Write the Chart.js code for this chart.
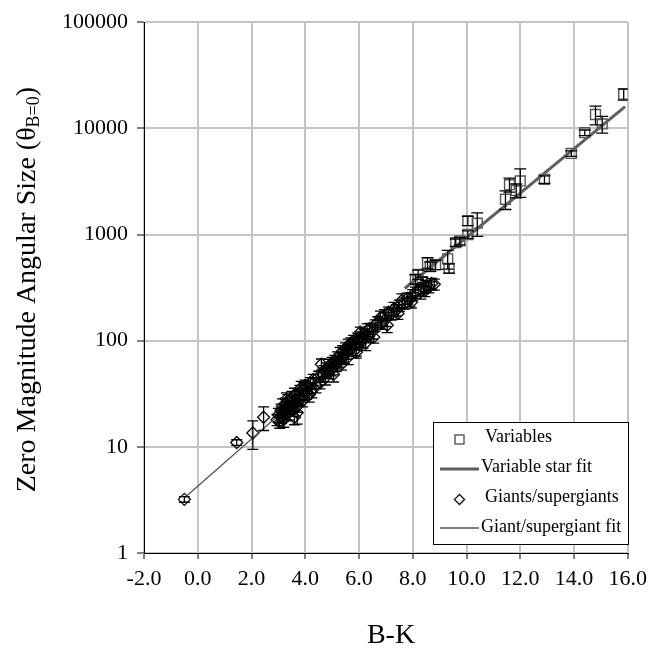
<!DOCTYPE html>
<html>
<head>
<meta charset="utf-8">
<script src="https://cdn.jsdelivr.net/npm/chart.js@4.4.0/dist/chart.umd.min.js"></script>
<style>
  body { margin: 0; background: #fff; }
  #wrap { width: 654px; height: 651px; }
</style>
</head>
<body>
<div id="wrap"><canvas id="chart" width="654" height="651"></canvas></div>
<script>
// Giants / supergiants: B-K colour, zero magnitude angular size, fractional error
const giantX = [-0.5, 1.45, 2.05, 2.45, 2.95, 3.0, 3.05, 3.1, 3.1, 3.15, 3.2, 3.2, 3.25, 3.3, 3.3, 3.35, 3.4, 3.4, 3.45, 3.5,
  3.5, 3.55, 3.6, 3.6, 3.65, 3.7, 3.7, 3.75, 3.8, 3.8, 3.85, 3.9, 3.95, 4.0, 4.05, 4.1, 4.15, 4.2, 4.3, 4.4,
  4.5, 4.6, 4.65, 4.7, 4.75, 4.8, 4.85, 4.9, 4.95, 5.0, 5.05, 5.1, 5.15, 5.2, 5.25, 5.3, 5.35, 5.4, 5.45, 5.5,
  5.55, 5.6, 5.65, 5.7, 5.75, 5.8, 5.85, 5.9, 5.95, 6.0, 6.05, 6.1, 6.15, 6.2, 6.3, 6.35, 6.4, 6.5, 6.6, 6.7,
  6.8, 6.85, 6.95, 7.0, 7.1, 7.2, 7.3, 7.4, 7.5, 7.6, 7.7, 7.8, 7.9, 8.0, 8.1, 8.2, 8.3, 8.4, 8.5, 8.6, 8.7, 8.8,
  3.3, 3.6, 3.9, 4.25, 4.55, 5.05, 5.35, 5.6, 5.9, 6.25, 6.55, 7.05, 7.45, 7.95, 8.45];
const giantY = [3.2, 11, 13.5, 19, 18, 20, 17, 22, 19, 24, 21, 18, 25, 22, 20, 27, 24, 21, 23, 26,
  29, 22, 25, 31, 27, 24, 21, 30, 33, 28, 36, 31, 35, 38, 33, 36, 31, 40, 43, 38,
  46, 60, 48, 52, 45, 55, 50, 58, 53, 62, 56, 65, 60, 70, 64, 75, 68, 80, 72, 85,
  76, 90, 82, 95, 86, 100, 92, 84, 105, 96, 120, 108, 100, 115, 125, 110, 130, 122, 140, 150,
  165, 145, 175, 160, 185, 178, 200, 195, 215, 240, 225, 250, 245, 270, 285, 300, 290, 315, 330, 320, 345, 340,
  28, 19, 27, 34, 40, 48, 60, 70, 78, 95, 108, 140, 180, 230, 295];
const giantErr = [0.06, 0.06, 0.3, 0.25, 0.12, 0.15, 0.12, 0.15, 0.12, 0.18, 0.12, 0.15, 0.15, 0.12, 0.12, 0.15, 0.12, 0.15, 0.12, 0.15,
  0.15, 0.12, 0.15, 0.15, 0.12, 0.12, 0.22, 0.15, 0.15, 0.12, 0.15, 0.12, 0.15, 0.12, 0.15, 0.12, 0.15, 0.12, 0.12, 0.15,
  0.12, 0.12, 0.15, 0.12, 0.15, 0.12, 0.12, 0.15, 0.12, 0.12, 0.15, 0.12, 0.15, 0.12, 0.12, 0.15, 0.12, 0.12, 0.15, 0.12,
  0.12, 0.15, 0.12, 0.12, 0.15, 0.12, 0.12, 0.15, 0.12, 0.15, 0.12, 0.12, 0.15, 0.12, 0.15, 0.12, 0.12, 0.15, 0.12, 0.12,
  0.15, 0.12, 0.12, 0.15, 0.12, 0.12, 0.15, 0.12, 0.12, 0.15, 0.12, 0.12, 0.15, 0.12, 0.12, 0.12, 0.15, 0.12, 0.12, 0.12, 0.12, 0.12,
  0.15, 0.15, 0.12, 0.15, 0.12, 0.15, 0.12, 0.15, 0.12, 0.15, 0.12, 0.15, 0.12, 0.12, 0.12];

// Variables
const varX = [8.1, 8.2, 8.35, 8.55, 8.65, 8.85, 9.3, 9.35, 9.6, 9.75, 10.05, 10.05, 10.4, 11.45, 11.6, 11.85, 12.0, 12.9, 13.9, 14.4, 14.8, 15.05, 15.85];
const varY = [380, 420, 360, 540, 500, 520, 590, 480, 840, 870, 1000, 1350, 1280, 2150, 2950, 2600, 3200, 3300, 5800, 9100, 13500, 11000, 21000];
const varErr = [0.1, 0.1, 0.1, 0.12, 0.1, 0.1, 0.2, 0.1, 0.08, 0.08, 0.08, 0.1, 0.25, 0.2, 0.15, 0.15, 0.3, 0.08, 0.06, 0.06, 0.2, 0.18, 0.12];

// fits (end points)
const varFitX = [7.7, 15.9];
const varFitY = [310, 16000];
const giantFitX = [-0.5, 8.8];
const giantFitY = [3.3, 385];

const xTicks = [-2, 0, 2, 4, 6, 8, 10, 12, 14, 16];
const yTicks = [1, 10, 100, 1000, 10000, 100000];

const pts = (xs, ys) => xs.map((x, i) => ({ x: x, y: ys[i] }));
const serif = "'Liberation Serif', 'DejaVu Serif', serif";
Chart.defaults.font.family = serif;
Chart.defaults.color = '#000';

// vertical error bars drawn through the scales
const errorBars = {
  id: 'errorBars',
  afterDatasetsDraw(chart) {
    const { ctx, scales: { x, y }, chartArea } = chart;
    ctx.save();
    ctx.beginPath();
    ctx.rect(chartArea.left, chartArea.top, chartArea.width, chartArea.height);
    ctx.clip();
    ctx.strokeStyle = '#000';
    ctx.lineWidth = 1.3;
    chart.data.datasets.forEach(ds => {
      if (!ds.errors) return;
      ds.data.forEach((p, i) => {
        const e = ds.errors[i];
        const px = x.getPixelForValue(p.x);
        const lo = y.getPixelForValue(p.y * (1 - e));
        const hi = y.getPixelForValue(p.y * (1 + e));
        const cap = ds.capHalf;
        ctx.beginPath();
        ctx.moveTo(px, lo); ctx.lineTo(px, hi);
        ctx.moveTo(px - cap, lo); ctx.lineTo(px + cap, lo);
        ctx.moveTo(px - cap, hi); ctx.lineTo(px + cap, hi);
        ctx.stroke();
      });
    });
    ctx.restore();
  }
};

// axis titles (y title has a subscript) and the boxed legend
const decorations = {
  id: 'decorations',
  afterDraw(chart) {
    const { ctx, chartArea } = chart;
    ctx.save();
    ctx.fillStyle = '#000';

    // x title
    ctx.font = '28px ' + serif;
    ctx.textAlign = 'center';
    ctx.textBaseline = 'middle';
    ctx.fillText('B-K', 391, 636);

    // y title
    ctx.save();
    ctx.translate(28, (chartArea.top + chartArea.bottom) / 2 + 2);
    ctx.rotate(-Math.PI / 2);
    ctx.textAlign = 'left';
    ctx.textBaseline = 'middle';
    const main = 'Zero Magnitude Angular Size (\u03B8';
    ctx.font = '28px ' + serif;
    const w1 = ctx.measureText(main).width;
    const w3 = ctx.measureText(')').width;
    ctx.font = '18px ' + serif;
    const w2 = ctx.measureText('B=0').width;
    let sx = -(w1 + w2 + w3) / 2;
    ctx.font = '28px ' + serif;
    ctx.fillText(main, sx, 0);
    ctx.font = '18px ' + serif;
    ctx.fillText('B=0', sx + w1, 6);
    ctx.font = '28px ' + serif;
    ctx.fillText(')', sx + w1 + w2, 0);
    ctx.restore();

    // legend
    const bx = 433.5, by = 422.5, bw = 195, bh = 122;
    ctx.fillStyle = '#fff';
    ctx.fillRect(bx, by, bw, bh);
    ctx.strokeStyle = '#000';
    ctx.lineWidth = 1;
    ctx.strokeRect(bx, by, bw, bh);
    const ds = chart.data.datasets;
    const rows = [437, 467, 497, 527];
    ctx.font = '18px ' + serif;
    ctx.textAlign = 'left';
    ctx.textBaseline = 'middle';
    ctx.fillStyle = '#000';
    // Variables
    ctx.strokeStyle = ds[2].borderColor;
    ctx.lineWidth = 1.4;
    ctx.strokeRect(455, rows[0] - 2, 9, 9);
    ctx.fillText(ds[2].label, 485, rows[0]);
    // Variable star fit
    ctx.strokeStyle = ds[0].borderColor;
    ctx.lineWidth = ds[0].borderWidth;
    ctx.beginPath(); ctx.moveTo(440, rows[1] + 2); ctx.lineTo(479, rows[1] + 2); ctx.stroke();
    ctx.fillText(ds[0].label, 481, rows[1]);
    // Giants/supergiants
    ctx.strokeStyle = ds[3].borderColor;
    ctx.lineWidth = 1.4;
    ctx.beginPath();
    ctx.moveTo(459.5, rows[2] - 2.5); ctx.lineTo(464.5, rows[2] + 2.5);
    ctx.lineTo(459.5, rows[2] + 7.5); ctx.lineTo(454.5, rows[2] + 2.5); ctx.closePath();
    ctx.stroke();
    ctx.fillText(ds[3].label, 485, rows[2]);
    // Giant/supergiant fit
    ctx.strokeStyle = ds[1].borderColor;
    ctx.lineWidth = ds[1].borderWidth;
    ctx.beginPath(); ctx.moveTo(440, rows[3] + 1); ctx.lineTo(479, rows[3] + 1); ctx.stroke();
    ctx.fillText(ds[1].label, 481, rows[3]);
    ctx.restore();
  }
};

const config = {
  type: 'scatter',
  data: {
    datasets: [
      {
        label: 'Variable star fit', type: 'line', data: pts(varFitX, varFitY),
        borderColor: '#5f5f5f', borderWidth: 3, pointRadius: 0, fill: false, order: 1
      },
      {
        label: 'Giant/supergiant fit', type: 'line', data: pts(giantFitX, giantFitY),
        borderColor: '#555', borderWidth: 1.3, pointRadius: 0, fill: false, order: 2
      },
      {
        label: 'Variables', data: pts(varX, varY), errors: varErr, capHalf: 6,
        pointStyle: 'rect', pointRadius: 7, borderColor: '#555', borderWidth: 1.4,
        backgroundColor: 'rgba(255,255,255,0)', order: 3
      },
      {
        label: 'Giants/supergiants', data: pts(giantX, giantY), errors: giantErr, capHalf: 5.5,
        pointStyle: 'rectRot', pointRadius: 6, borderColor: '#111', borderWidth: 1.4,
        backgroundColor: 'rgba(255,255,255,0)', order: 4
      }
    ]
  },
  options: {
    responsive: false,
    animation: false,
    layout: { padding: { left: 0, top: 18, right: 22, bottom: 0 } },
    plugins: { legend: { display: false }, tooltip: { enabled: false } },
    scales: {
      x: {
        type: 'linear', min: -2, max: 16,
        afterFit: s => { s.height = 98; },
        afterBuildTicks: s => { s.ticks = xTicks.map(v => ({ value: v })); },
        ticks: { font: { size: 22 }, color: '#000', padding: 7, callback: v => v.toFixed(1) },
        grid: { color: '#c4c4c4', lineWidth: 2, tickColor: '#000', tickLength: 6, tickWidth: 1 },
        border: { color: '#000', width: 1 }
      },
      y: {
        type: 'logarithmic', min: 1, max: 100000,
        afterFit: s => { s.width = 144; },
        afterBuildTicks: s => { s.ticks = yTicks.map(v => ({ value: v })); },
        ticks: { font: { size: 22 }, color: '#000', padding: 9, callback: v => String(v) },
        grid: { color: '#c4c4c4', lineWidth: 2, tickColor: '#000', tickLength: 7, tickWidth: 1 },
        border: { color: '#000', width: 1 }
      }
    }
  },
  plugins: [errorBars, decorations]
};

new Chart(document.getElementById('chart'), config);
</script>
</body>
</html>
